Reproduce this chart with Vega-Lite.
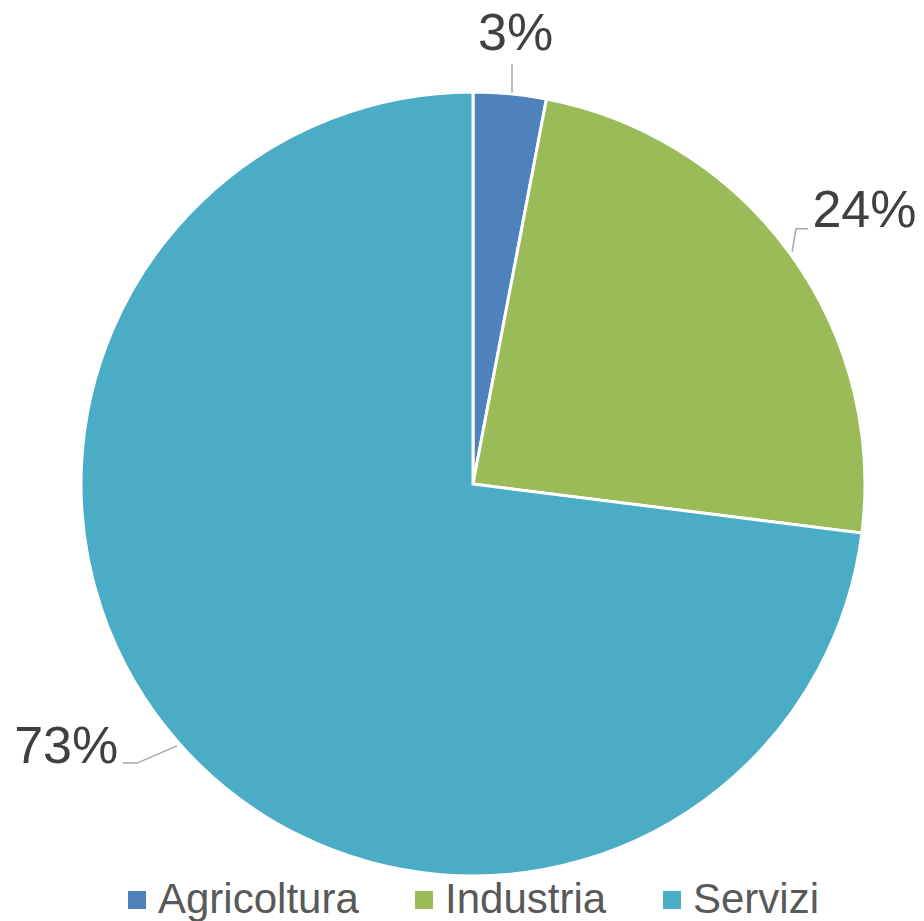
{
  "$schema": "https://vega.github.io/schema/vega-lite/v6.json",
  "width": 784,
  "height": 784,
  "autosize": {"type": "none"},
  "padding": {"left": 81, "top": 92, "right": 59, "bottom": 45},
  "background": "white",
  "config": {"view": {"stroke": null}, "font": "Liberation Sans"},
  "datasets": {
    "shares": [
      {"settore": "Agricoltura", "quota": 0.03},
      {"settore": "Industria", "quota": 0.24},
      {"settore": "Servizi", "quota": 0.73}
    ],
    "leaders": [
      {"seg": "a", "i": 1, "x": 0.0995, "y": 1.071},
      {"seg": "a", "i": 2, "x": 0.0995, "y": 0.998},
      {"seg": "b", "i": 1, "x": 0.814, "y": 0.592},
      {"seg": "b", "i": 2, "x": 0.824, "y": 0.651},
      {"seg": "b", "i": 3, "x": 0.855, "y": 0.651},
      {"seg": "c", "i": 1, "x": -0.893, "y": -0.712},
      {"seg": "c", "i": 2, "x": -0.857, "y": -0.712},
      {"seg": "c", "i": 3, "x": -0.755, "y": -0.668}
    ]
  },
  "layer": [
    {
      "data": {"name": "shares"},
      "mark": {"type": "arc", "outerRadius": 392, "stroke": "white", "strokeWidth": 3},
      "encoding": {
        "theta": {"field": "quota", "type": "quantitative", "stack": true},
        "color": {
          "field": "settore",
          "type": "nominal",
          "scale": {"domain": ["Agricoltura", "Industria", "Servizi"], "range": ["#4F81BD", "#9BBB59", "#4BACC6"]},
          "legend": {
            "orient": "none",
            "legendX": 35,
            "legendY": 787,
            "direction": "horizontal",
            "title": null,
            "symbolType": "square",
            "symbolSize": 324,
            "symbolStrokeWidth": 0,
            "labelFontSize": 42,
            "labelColor": "#595959",
            "labelFont": "Liberation Sans",
            "labelOffset": 0,
            "labelLimit": 400,
            "columnPadding": 44
          }
        }
      }
    },
    {
      "data": {"name": "leaders"},
      "mark": {"type": "line", "color": "#A6A6A6", "strokeWidth": 1.5},
      "encoding": {
        "x": {"field": "x", "type": "quantitative", "scale": {"domain": [-1, 1], "nice": false, "zero": false}, "axis": null},
        "y": {"field": "y", "type": "quantitative", "scale": {"domain": [-1, 1], "nice": false, "zero": false}, "axis": null},
        "detail": {"field": "seg"},
        "order": {"field": "i"}
      }
    },
    {
      "data": {"name": "shares"},
      "mark": {"type": "text", "radius": 452, "fontSize": 52, "color": "#404040", "font": "Liberation Sans"},
      "encoding": {
        "theta": {"field": "quota", "type": "quantitative", "stack": true},
        "order": {"field": "settore"},
        "text": {"condition": {"test": "datum.settore === 'Agricoltura'", "field": "quota", "type": "quantitative", "format": ".0%"}, "value": ""}
      }
    },
    {
      "data": {"name": "shares"},
      "mark": {"type": "text", "radius": 474, "dx": 8, "dy": 6, "fontSize": 52, "color": "#404040", "font": "Liberation Sans"},
      "encoding": {
        "theta": {"field": "quota", "type": "quantitative", "stack": true},
        "order": {"field": "settore"},
        "text": {"condition": {"test": "datum.settore === 'Industria'", "field": "quota", "type": "quantitative", "format": ".0%"}, "value": ""}
      }
    },
    {
      "data": {"name": "shares"},
      "mark": {"type": "text", "radius": 485, "dx": -43, "dy": -58, "fontSize": 52, "color": "#404040", "font": "Liberation Sans"},
      "encoding": {
        "theta": {"field": "quota", "type": "quantitative", "stack": true},
        "order": {"field": "settore"},
        "text": {"condition": {"test": "datum.settore === 'Servizi'", "field": "quota", "type": "quantitative", "format": ".0%"}, "value": ""}
      }
    }
  ]
}
